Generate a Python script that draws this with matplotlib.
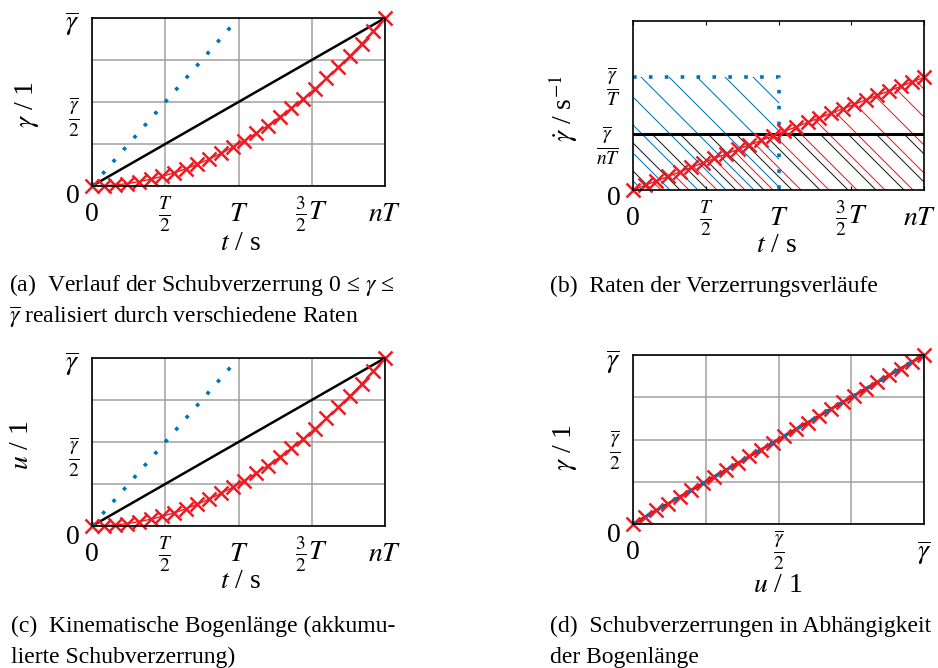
import numpy as np
import matplotlib
matplotlib.use("Agg")
import matplotlib.pyplot as plt
from matplotlib.collections import LineCollection
from matplotlib.transforms import IdentityTransform, ScaledTranslation

plt.rcParams['font.family'] = ['Liberation Serif', 'DejaVu Serif']
plt.rcParams['mathtext.fontset'] = 'stix'

# Zeit in Einheiten von T (nT = 2T), Werte in Einheiten von gamma_quer
t_rot = [0.00, 0.08, 0.16, 0.24, 0.32, 0.40, 0.48, 0.56, 0.64, 0.72, 0.80, 0.88, 0.96,
         1.04, 1.12, 1.20, 1.28, 1.36, 1.44, 1.52, 1.60, 1.68, 1.76, 1.84, 1.92, 2.00]
gamma_rot = [0.000, 0.002, 0.006, 0.014, 0.026, 0.040, 0.058, 0.078, 0.102, 0.130, 0.160,
             0.194, 0.230, 0.270, 0.314, 0.360, 0.410, 0.462, 0.518, 0.578, 0.640, 0.706,
             0.774, 0.846, 0.922, 1.000]
t_blau = [0, 1]
gamma_blau = [0, 1]
t_schwarz = [0, 2]
gamma_schwarz = [0, 1]

# Raten in Einheiten von gamma_quer/(nT)
rate_rot = [0.00, 0.08, 0.16, 0.24, 0.32, 0.40, 0.48, 0.56, 0.64, 0.72, 0.80, 0.88, 0.96,
            1.04, 1.12, 1.20, 1.28, 1.36, 1.44, 1.52, 1.60, 1.68, 1.76, 1.84, 1.92, 2.00]
t_rate_blau = [0, 1, 1]
rate_blau = [2, 2, 0]
t_rate_schwarz = [0, 2]
rate_schwarz = [1, 1]

# (d) gamma ueber u
u_rot = [0.00, 0.04, 0.08, 0.12, 0.16, 0.20, 0.24, 0.28, 0.32, 0.36, 0.40, 0.44, 0.48,
         0.52, 0.56, 0.60, 0.64, 0.68, 0.72, 0.76, 0.80, 0.84, 0.88, 0.92, 0.96, 1.00]
u_linie = [0, 1]
gamma_linie = [0, 1]

t_ticks = [0, 0.5, 1, 1.5, 2]
t_labels = ['0', r'$\frac{T}{2}$', r'$T$', r'$\frac{3}{2}T$', r'$nT$']
g_ticks = [0, 0.25, 0.5, 0.75, 1]
g_labels = ['0', '', r'$\frac{\overline{\gamma}}{2}$', '', r'$\overline{\gamma}$']
r_ticks = [0, 1, 2]
r_labels = ['0', r'$\frac{\overline{\gamma}}{nT}$', r'$\frac{\overline{\gamma}}{T}$']

BLAU = '#0072BD'
ROT = '#ED1C24'
W, H = 938, 668
FS = 17        # Bildunterschriften
FS_ACHSE = 20  # Achsen / Ticks

fig = plt.figure(figsize=(W / 100, H / 100), dpi=100)

def px_axes(l, t, r, b):
    return fig.add_axes([l / W, 1 - b / H, (r - l) / W, (b - t) / H])

def fig_text(x, y, s, fs=FS, **kw):
    fig.text(x / W, 1 - y / H, s, fontsize=fs, **kw)

def rahmen(ax, gitter=True):
    for sp in ax.spines.values():
        sp.set_linewidth(1.2)
    if gitter:
        ax.grid(True, color='#a0a0a0', lw=1.1)
        ax.set_axisbelow(True)
    ax.tick_params(length=0, labelsize=FS_ACHSE)
    ax.tick_params(axis='x', pad=25)
    ax.tick_params(axis='y', pad=9)
    for lab in ax.get_xticklabels():
        lab.set_verticalalignment('baseline')

def verschieben(lab, dx, dy):
    # Beschriftung um (dx, dy) Pixel verschieben, dy nach unten
    lab.set_transform(lab.get_transform() + ScaledTranslation(dx / 100, -dy / 100, fig.dpi_scale_trans))

def y_labels_runter(ax, dys):
    for lab, dy in zip(ax.get_yticklabels(), dys):
        verschieben(lab, 0, dy)

def verlauf(ax):
    ax.plot(t_schwarz, gamma_schwarz, color='black', lw=1.8)
    ax.plot(t_rot, gamma_rot, color=ROT, lw=1, marker='x', ms=9.5, mew=1.8, clip_on=False)
    ax.plot(t_blau, gamma_blau, color=BLAU, lw=2.6, dashes=(1, 3.4))
    ax.set_xlim(0, 2)
    ax.set_ylim(0, 1)
    ax.set_xticks(t_ticks, t_labels)
    ax.set_yticks(g_ticks, g_labels)
    rahmen(ax)
    y_labels_runter(ax, [8, 0, 9, 0, 2])

def schraffur(ax, xs, ys, color, offset):
    coll = ax.fill_between(xs, ys, 0, facecolor='none', edgecolor='none')
    segs = [[(c, H), (c + H, 0)] for c in np.arange(-H + offset, W, 28)]
    lc = LineCollection(segs, colors=color, lw=0.75, transform=IdentityTransform())
    ax.add_collection(lc, autolim=False)
    lc.set_clip_path(coll.get_paths()[0], ax.transData)

# (a)
ax_a = px_axes(92, 18, 385, 186)
verlauf(ax_a)
fig_text(27, 104, r'$\gamma$ / 1', FS_ACHSE, rotation=90, ha='center', va='center')
fig_text(241, 243, r'$t$ / s', FS_ACHSE, ha='center', va='center')

# (b)
ax_b = px_axes(633, 21, 924, 190)
schraffur(ax_b, t_rate_blau[:2], rate_blau[:2], BLAU, 0)
schraffur(ax_b, t_rate_schwarz, rate_schwarz, '#222222', 10)
schraffur(ax_b, t_rot, rate_rot, ROT, 19)
ax_b.plot(t_rate_schwarz, rate_schwarz, color='black', lw=2.2)
ax_b.plot(t_rate_blau, rate_blau, color=BLAU, lw=2.6, dashes=(1, 3.4))
ax_b.plot(t_rot, rate_rot, color=ROT, lw=1, marker='x', ms=9.5, mew=1.8, clip_on=False)
ax_b.set_xlim(0, 2)
ax_b.set_ylim(0, 3)
ax_b.set_xticks(t_ticks, t_labels)
ax_b.set_yticks(r_ticks, r_labels)
rahmen(ax_b, gitter=False)
ax_b.tick_params(axis='x', direction='in', length=3, top=True)
y_labels_runter(ax_b, [5, 6, 3])
verschieben(ax_b.get_xticklabels()[-1], -4, 0)
fig_text(563, 108, r'$\dot{\gamma}$ / s$^{-1}$', FS_ACHSE, rotation=90, ha='center', va='center')
fig_text(777, 245, r'$t$ / s', FS_ACHSE, ha='center', va='center')

# (c)
ax_c = px_axes(92, 358, 385, 526)
verlauf(ax_c)
fig_text(22, 445, r'$u$ / 1', FS_ACHSE, rotation=90, ha='center', va='center')
fig_text(241, 582, r'$t$ / s', FS_ACHSE, ha='center', va='center')

# (d)
ax_d = px_axes(633, 355, 924, 524)
ax_d.plot(u_linie, gamma_linie, color='black', lw=1.8)
ax_d.plot(u_rot, u_rot, color=ROT, lw=1, marker='x', ms=9.5, mew=1.8, clip_on=False)
ax_d.plot(u_linie, gamma_linie, color=BLAU, lw=2.6, dashes=(1, 3.4))
ax_d.set_xlim(0, 1)
ax_d.set_ylim(0, 1)
ax_d.set_xticks(g_ticks, g_labels)
ax_d.set_yticks(g_ticks, g_labels)
rahmen(ax_d)
y_labels_runter(ax_d, [8, 0, 4, 0, 3])
fig_text(565, 447, r'$\gamma$ / 1', FS_ACHSE, rotation=90, ha='center', va='center')
fig_text(778, 585, r'$u$ / 1', FS_ACHSE, ha='center', va='center')

# Bildunterschriften
fig_text(9, 291, r'(a)  Verlauf der Schubverzerrung 0 ≤ $\gamma$ ≤', va='baseline')
fig_text(9, 323, r'$\overline{\gamma}$ realisiert durch verschiedene Raten', va='baseline')
fig_text(550, 292, '(b)  Raten der Verzerrungsverläufe', va='baseline')
fig_text(11, 632, '(c)  Kinematische Bogenlänge (akkumu-', va='baseline')
fig_text(11, 663, 'lierte Schubverzerrung)', va='baseline')
fig_text(550, 632, '(d)  Schubverzerrungen in Abhängigkeit', va='baseline')
fig_text(550, 663, 'der Bogenlänge', va='baseline')

fig.savefig('out.png', dpi=100)
